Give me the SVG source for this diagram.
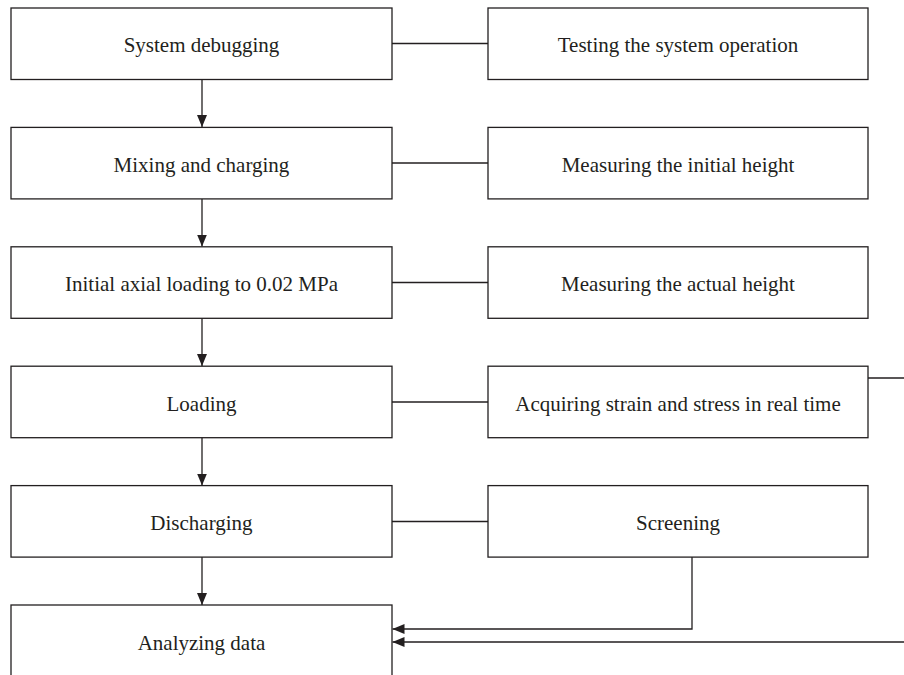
<svg xmlns="http://www.w3.org/2000/svg" width="904" height="675" viewBox="0 0 904 675">
<style>
.box{fill:#fff;stroke:#231f20;stroke-width:1.3}
.t{font-family:"Liberation Serif","Times New Roman",serif;font-size:21px;fill:#231f20;text-anchor:middle}
.c{fill:none;stroke:#231f20;stroke-width:1.3}
</style>
<defs>
<marker id="ah" markerWidth="12" markerHeight="10" refX="12" refY="5" orient="auto" markerUnits="userSpaceOnUse">
<path d="M0,0 L12,5 L0,10 Z" fill="#231f20"/>
</marker>
</defs>
<rect width="904" height="675" fill="#fff"/>
<g id="connectors">
<line class="c" x1="392" y1="43.5" x2="488" y2="43.5"/>
<line class="c" x1="392" y1="163" x2="488" y2="163"/>
<line class="c" x1="392" y1="282.5" x2="488" y2="282.5"/>
<line class="c" x1="392" y1="402" x2="488" y2="402"/>
<line class="c" x1="392" y1="521.5" x2="488" y2="521.5"/>
<line class="c" x1="202" y1="79.5" x2="202" y2="127" marker-end="url(#ah)"/>
<line class="c" x1="202" y1="199" x2="202" y2="246.5" marker-end="url(#ah)"/>
<line class="c" x1="202" y1="318" x2="202" y2="366" marker-end="url(#ah)"/>
<line class="c" x1="202" y1="437.5" x2="202" y2="485.5" marker-end="url(#ah)"/>
<line class="c" x1="202" y1="557" x2="202" y2="605" marker-end="url(#ah)"/>
<polyline class="c" points="692,557 692,629 392.5,629" marker-end="url(#ah)"/>
<polyline class="c" points="868,378 912,378 912,642 392.5,642" marker-end="url(#ah)"/>
</g>
<g id="n1"><rect class="box" x="11" y="8" width="381" height="71.5"/><text class="t" x="201.5" y="52">System debugging</text></g>
<g id="n2"><rect class="box" x="11" y="127.4" width="381" height="71.5"/><text class="t" x="201.5" y="171.5">Mixing and charging</text></g>
<g id="n3"><rect class="box" x="11" y="246.8" width="381" height="71.5"/><text class="t" x="201.5" y="291">Initial axial loading to 0.02 MPa</text></g>
<g id="n4"><rect class="box" x="11" y="366.2" width="381" height="71.5"/><text class="t" x="201.5" y="410.5">Loading</text></g>
<g id="n5"><rect class="box" x="11" y="485.6" width="381" height="71.5"/><text class="t" x="201.5" y="530">Discharging</text></g>
<g id="n6"><rect class="box" x="11" y="605" width="381" height="80"/><text class="t" x="201.5" y="649.5">Analyzing data</text></g>
<g id="r1"><rect class="box" x="488" y="8" width="380" height="71.5"/><text class="t" x="678" y="52">Testing the system operation</text></g>
<g id="r2"><rect class="box" x="488" y="127.4" width="380" height="71.5"/><text class="t" x="678" y="171.5">Measuring the initial height</text></g>
<g id="r3"><rect class="box" x="488" y="246.8" width="380" height="71.5"/><text class="t" x="678" y="291">Measuring the actual height</text></g>
<g id="r4"><rect class="box" x="488" y="366.2" width="380" height="71.5"/><text class="t" x="678" y="410.5">Acquiring strain and stress in real time</text></g>
<g id="r5"><rect class="box" x="488" y="485.6" width="380" height="71.5"/><text class="t" x="678" y="530">Screening</text></g>
</svg>
